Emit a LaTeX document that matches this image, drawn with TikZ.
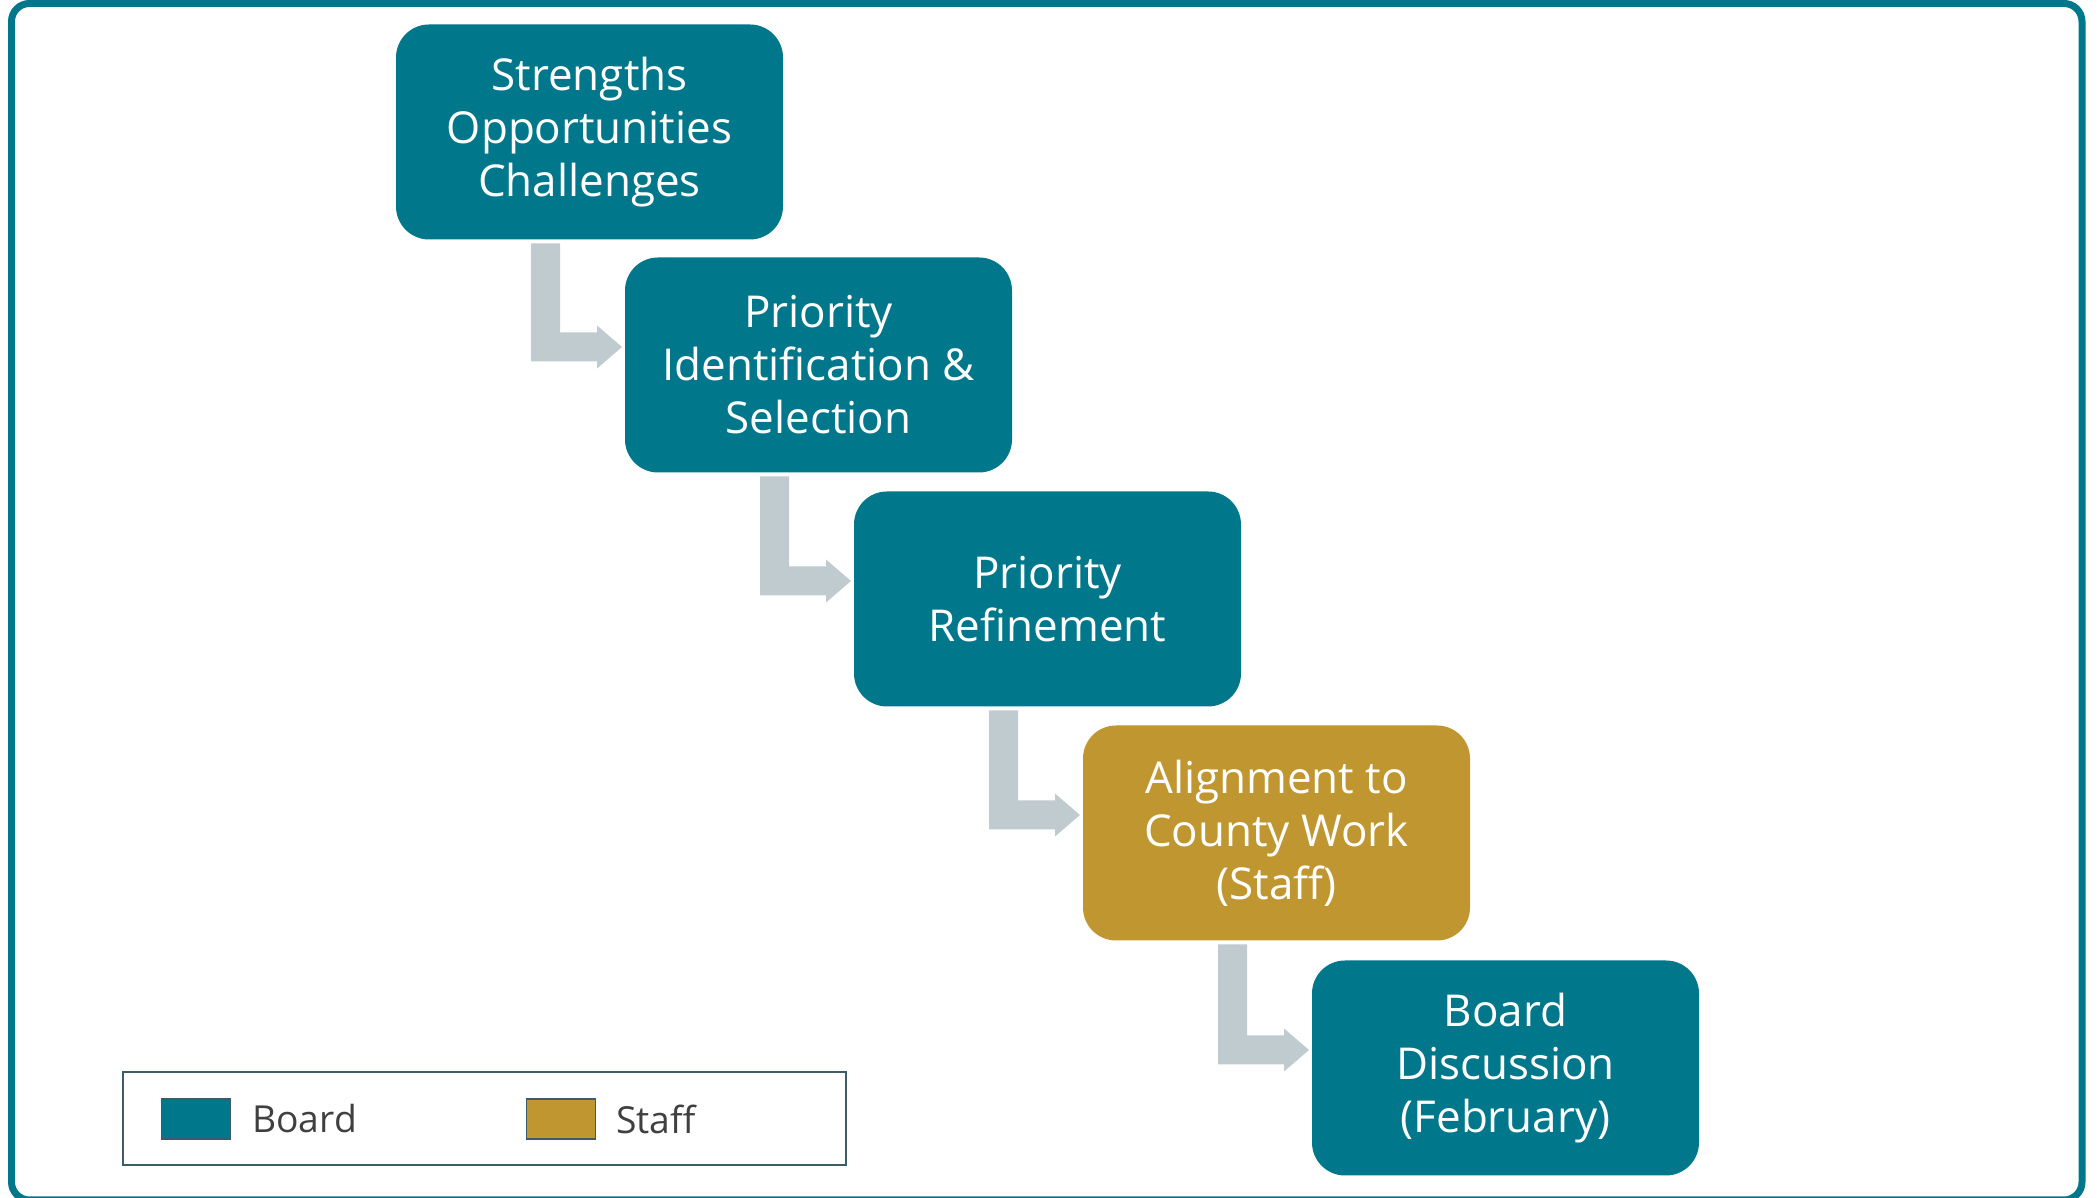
\documentclass[tikz,border=0pt]{standalone}
\usepackage{fontspec}
\setmainfont{Open Sans}
\usetikzlibrary{positioning,calc}

\definecolor{boardteal}{RGB}{0,119,138}
\definecolor{staffgold}{RGB}{192,150,48}
\definecolor{arrowgray}{RGB}{191,203,207}
\definecolor{legendline}{RGB}{62,92,102}
\definecolor{legendtext}{RGB}{64,64,64}

\tikzset{
  stepbox/.style={rectangle, rounded corners=0.33cm, minimum width=3.87cm,
    minimum height=2.15cm, outer sep=0pt, inner sep=0pt, fill=boardteal,
    text=white, align=center, font=\fontsize{12.5}{15.1}\selectfont},
  swatch/.style={rectangle, minimum width=0.69cm, minimum height=0.40cm,
    outer sep=0pt, draw=legendline, line width=0.4pt},
  keylabel/.style={inner sep=0pt, text=legendtext,
    font=\fontsize{10.6}{12}\selectfont}
}

\begin{document}
\begin{tikzpicture}
  \useasboundingbox (0,0) rectangle (20.98,11.98);
  % frame
  \draw[boardteal, line width=0.07cm, rounded corners=0.18cm]
    (0.115,-0.02) rectangle (20.82,11.945);

  % steps
  \node[stepbox] (s1) at (5.895,10.66) {Strengths\\Opportunities\\Challenges};
  \node[stepbox, below right=0.18cm and -1.58cm of s1] (s2) {Priority\\Identification \&\\Selection};
  \node[stepbox, below right=0.19cm and -1.58cm of s2] (s3) {Priority\\Refinement};
  \node[stepbox, below right=0.19cm and -1.58cm of s3, fill=staffgold] (s4) {Alignment to\\County Work\\(Staff)};
  \node[stepbox, below right=0.20cm and -1.58cm of s4] (s5) {Board\\Discussion\\(February)};

  % bent arrows between steps
  \foreach \a/\b in {s1/s2,s2/s3,s3/s4,s4/s5}
    \fill[arrowgray] let \p1=(\a.south west), \p2=(\b.north west) in
      (\x1+1.35cm,\y1-0.04cm) -- (\x1+1.64cm,\y1-0.04cm)
      -- (\x1+1.64cm,\y2-0.75cm) -- (\x2-0.28cm,\y2-0.75cm)
      -- (\x2-0.28cm,\y2-0.68cm) -- (\x2-0.03cm,\y2-0.895cm)
      -- (\x2-0.28cm,\y2-1.11cm) -- (\x2-0.28cm,\y2-1.04cm)
      -- (\x1+1.35cm,\y2-1.04cm) -- cycle;

  % legend
  \draw[legendline, line width=0.02cm] (1.23,1.255) rectangle (8.455,0.325);
  \node[swatch, fill=boardteal] (kboard) at (1.96,0.79) {};
  \node[keylabel, right=0.21cm of kboard] (lboard) {Board};
  \node[swatch, fill=staffgold] (kstaff) at (5.61,0.79) {};
  \node[keylabel, right=0.20cm of kstaff] (lstaff) {Staff};
\end{tikzpicture}
\end{document}
